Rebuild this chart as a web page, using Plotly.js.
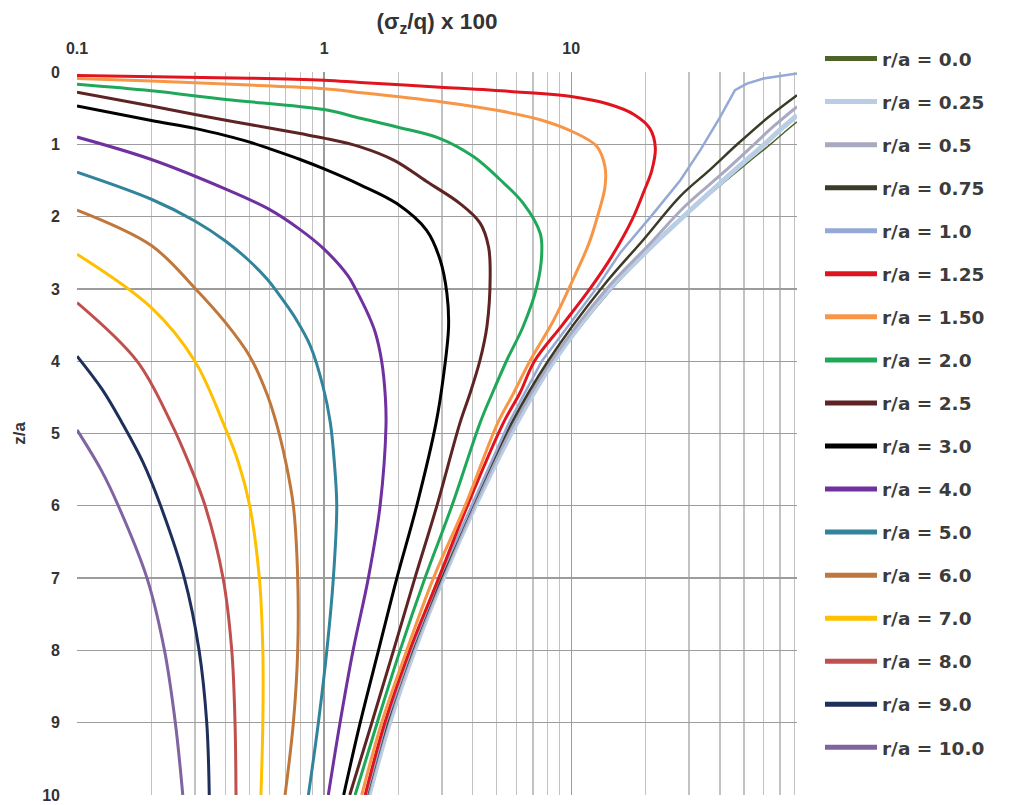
<!DOCTYPE html>
<html><head><meta charset="utf-8">
<script src="https://cdn.plot.ly/plotly-3.0.1.min.js"></script>
<style>
html,body{margin:0;padding:0;background:#fff}
#chart{width:1013px;height:805px}
</style>
</head><body><div id="chart"></div>
<script>
// Legend labels
const labels = ["r/a = 0.0","r/a = 0.25","r/a = 0.5","r/a = 0.75","r/a = 1.0","r/a = 1.25","r/a = 1.50","r/a = 2.0","r/a = 2.5","r/a = 3.0","r/a = 4.0","r/a = 5.0","r/a = 6.0","r/a = 7.0","r/a = 8.0","r/a = 9.0","r/a = 10.0"];

// depth z/a and stress (sigma_z/q)*100 for each r/a
const z_000 = [0.69, 0.85, 1.0, 1.25, 1.5, 2.05, 2.5, 3.0, 4.0, 4.85, 6, 7, 8, 9, 10];
const s_000 = [82, 72, 64, 52, 42.4, 27.6, 20.2, 14.6, 8.6, 6.1, 4.12, 3.05, 2.33, 1.85, 1.53];
const z_025 = [0.6, 0.8, 1.0, 1.4, 1.95, 2.5, 3.0, 4.0, 4.85, 6, 7, 8, 9, 10];
const s_025 = [82, 70, 60.5, 44.5, 29.5, 19.9, 14.3, 8.5, 6.03, 4.09, 3.03, 2.32, 1.84, 1.52];
const z_050 = [0.48, 0.75, 1.0, 1.4, 1.85, 2.4, 3.0, 4.0, 4.85, 6, 7, 8, 9, 10];
const s_050 = [82, 66, 55, 41, 29, 20.5, 13.9, 8.3, 5.9, 4.04, 3.0, 2.29, 1.81, 1.50];
const z_075 = [0.32, 0.64, 1.0, 1.35, 1.72, 2.32, 2.97, 4.0, 4.85, 6, 7, 8, 9, 10];
const s_075 = [82, 62, 47, 36.5, 27.6, 19.6, 13.4, 8.05, 5.75, 3.98, 2.97, 2.27, 1.80, 1.49];
const z_100 = [0.02, 0.09, 0.16, 0.25, 0.62, 1.08, 1.5, 2.0, 2.5, 3.0, 4.0, 4.85, 6, 7, 8, 9, 10];
const s_100 = [82, 60, 51.4, 46, 40.1, 33.3, 27.6, 21.0, 15.8, 12.6, 7.6, 5.6, 3.95, 2.93, 2.25, 1.78, 1.48];
const z_125 = [0.05, 0.085, 0.115, 0.145, 0.21, 0.27, 0.34, 0.44, 0.59, 0.78, 1.05, 1.36, 1.65, 2.05, 2.55, 3.0, 3.5, 4.0, 4.44, 4.85, 6, 7, 8, 9, 10];
const s_125 = [0.1, 0.5, 1.0, 1.4, 2.95, 5.66, 10, 14.0, 18.0, 20.8, 21.9, 21.2, 19.7, 17.6, 14.6, 11.9, 9.2, 7.1, 6.2, 5.32, 3.8, 2.91, 2.22, 1.76, 1.466];
const z_150 = [0.09, 0.125, 0.18, 0.23, 0.29, 0.41, 0.53, 0.66, 0.83, 1.03, 1.31, 1.59, 1.95, 2.37, 2.83, 3.43, 4.0, 4.44, 4.85, 6, 7, 8, 9, 10];
const s_150 = [0.1, 0.2, 0.5, 1.0, 1.45, 2.95, 5.0, 7.49, 10.2, 12.7, 13.7, 13.7, 12.9, 11.8, 10.3, 8.5, 6.8, 5.85, 5.05, 3.72, 2.77, 2.16, 1.71, 1.42];
const z_200 = [0.17, 0.26, 0.38, 0.52, 0.64, 0.76, 0.92, 1.17, 1.49, 1.82, 2.23, 2.51, 2.97, 3.52, 3.98, 4.44, 4.85, 6, 7, 8, 9, 10];
const s_200 = [0.1, 0.2, 0.4, 1.0, 1.40, 1.97, 2.95, 4.02, 5.16, 6.41, 7.49, 7.6, 7.26, 6.39, 5.5, 4.8, 4.28, 3.29, 2.56, 2.03, 1.64, 1.335];
const z_250 = [0.28, 0.47, 0.589, 0.667, 0.726, 0.852, 0.915, 1.035, 1.225, 1.515, 1.82, 2.09, 2.42, 2.83, 3.52, 3.98, 4.44, 4.85, 6, 7, 8, 9, 10];
const s_250 = [0.1, 0.2, 0.3, 0.4, 0.5, 0.8, 1.0, 1.40, 1.93, 2.60, 3.55, 4.28, 4.63, 4.70, 4.56, 4.28, 3.90, 3.55, 2.86, 2.33, 1.91, 1.56, 1.27];
const z_300 = [0.47, 0.67, 0.78, 0.88, 0.97, 1.06, 1.21, 1.34, 1.56, 1.82, 2.19, 2.6, 3.06, 3.52, 4.21, 4.85, 6, 7, 8, 9, 10];
const s_300 = [0.1, 0.2, 0.3, 0.4, 0.5, 0.6, 0.8, 1.0, 1.40, 1.97, 2.60, 2.95, 3.14, 3.19, 3.04, 2.84, 2.37, 1.97, 1.66, 1.40, 1.20];
const z_400 = [0.9, 1.21, 1.62, 1.9, 2.18, 2.45, 2.82, 3.0, 3.38, 3.6, 4.0, 4.5, 4.9, 6.0, 7.0, 8.0, 9.0, 10];
const s_400 = [0.1, 0.2, 0.4, 0.6, 0.8, 1.0, 1.25, 1.34, 1.52, 1.61, 1.71, 1.77, 1.78, 1.685, 1.51, 1.31, 1.16, 1.04];
const z_500 = [1.385, 1.76, 2.06, 2.34, 2.59, 2.87, 3.15, 3.42, 3.79, 4.35, 4.85, 5.4, 6.0, 7.0, 8.0, 9.0, 10];
const s_500 = [0.1, 0.2, 0.3, 0.4, 0.49, 0.59, 0.68, 0.77, 0.88, 0.99, 1.06, 1.1, 1.125, 1.09, 1.026, 0.948, 0.864];
const z_600 = [1.91, 2.4, 2.99, 3.47, 3.93, 4.44, 4.85, 5.4, 6.0, 7.0, 8.0, 9.0, 10];
const s_600 = [0.1, 0.2, 0.3, 0.4, 0.5, 0.585, 0.64, 0.7, 0.751, 0.782, 0.782, 0.751, 0.695];
const z_700 = [2.52, 3.26, 4.0, 4.85, 5.4, 6.0, 7.0, 8.0, 9.0, 10];
const s_700 = [0.1, 0.2, 0.3, 0.39, 0.45, 0.5, 0.547, 0.565, 0.565, 0.555];
const z_800 = [3.19, 4.0, 4.85, 5.4, 6.0, 7.0, 8.0, 9.0, 10];
const s_800 = [0.1, 0.175, 0.24, 0.283, 0.33, 0.39, 0.423, 0.436, 0.44];
const z_900 = [3.93, 4.4, 4.85, 5.4, 6.0, 7.0, 8.0, 9.0, 10];
const s_900 = [0.1, 0.127, 0.152, 0.185, 0.218, 0.272, 0.312, 0.335, 0.343];
const z_1000 = [4.95, 5.5, 6.0, 7.0, 8.0, 9.0, 10];
const s_1000 = [0.1, 0.125, 0.147, 0.192, 0.226, 0.25, 0.268];

// axis ticks
const xMajorTicks = [0.1, 1, 10];
const xMajorText = ["0.1", "1", "10"];
const xMinorTicks = [0.2,0.3,0.4,0.5,0.6,0.7,0.8,0.9,2,3,4,5,6,7,8,9,20,30,40,50,60,70,80];
const yTicks = [0,1,2,3,4,5,6,7,8,9,10];

const zs = [z_000,z_025,z_050,z_075,z_100,z_125,z_150,z_200,z_250,z_300,z_400,z_500,z_600,z_700,z_800,z_900,z_1000];
const ss = [s_000,s_025,s_050,s_075,s_100,s_125,s_150,s_200,s_250,s_300,s_400,s_500,s_600,s_700,s_800,s_900,s_1000];
const colors = ["#4F6228","#B9CDE5","#A9A9C2","#3B3B28","#95A9D6","#E0141E","#F79646","#1FA85A","#5E2424","#000000","#7030A0","#31849B","#C0773C","#FFC000","#C0504D","#1F2F5C","#8064A2"];
const widths = [1.5, 5, 3, 2.5, 2.5, 3, 3, 3, 3, 3, 3, 3, 3, 3, 3, 3, 3];

const FONT = "Liberation Sans, Arial, sans-serif";
const traces = labels.map((lab, i) => ({
  type: "scatter", mode: "lines",
  x: ss[i], y: zs[i],
  name: "<b>" + lab + "</b>",
  legendgroup: "g" + i,
  line: {color: colors[i], width: widths[i], shape: i === 4 ? "linear" : "spline", smoothing: 1},
  hoverinfo: "skip"
}));

const layout = {
  width: 1013, height: 805,
  margin: {l: 77, r: 216, t: 72, b: 10},
  paper_bgcolor: "#fff", plot_bgcolor: "#fff",
  font: {family: FONT, color: "#333"},
  showlegend: true,
  xaxis: {
    type: "log", side: "top", range: [-1, Math.log10(82)],
    tickmode: "array", tickvals: xMajorTicks, ticktext: xMajorText.map(t => "<b>" + t + "</b>"),
    tickfont: {size: 16, color: "#333"}, ticklabelstandoff: 14,
    showgrid: true, gridcolor: "#9c9c9c", gridwidth: 1.3,
    minor: {tickmode: "array", tickvals: xMinorTicks, showgrid: true, gridcolor: "#c2c2c2", gridwidth: 1.2},
    zeroline: false, showline: false, ticks: "",
    title: {text: "<b>(σ<sub>z</sub>/q) x 100</b>", font: {size: 22.5, color: "#333"}, standoff: 3},
    automargin: false
  },
  yaxis: {
    range: [10, 0], tickmode: "array", tickvals: yTicks, ticktext: yTicks.map(t => "<b>" + t + "</b>"),
    tickfont: {size: 16, color: "#333"},
    showgrid: true, gridcolor: "#9c9c9c", gridwidth: 1.3,
    zeroline: false, showline: false, ticks: "", ticklabelstandoff: 16,
    title: {text: "<b>z/a</b>", font: {size: 17, color: "#333"}, standoff: 12},
    automargin: false
  },
  legend: {
    x: 1.0 + (842 - 797) / 720, xanchor: "left",
    y: 1 + (72 - 40) / 723, yanchor: "top",
    font: {family: "DejaVu Sans, sans-serif", size: 18.5, color: "#3c3c3c"},
    traceorder: "grouped", tracegroupgap: 16, maxheight: 790,
    bgcolor: "rgba(0,0,0,0)", borderwidth: 0
  }
};

// lengthen legend line samples to match the reference (~55 px)
function fixLegend() {
  const root = document.querySelector("#chart .legend");
  if (!root) return;
  root.querySelectorAll("[clip-path]").forEach(el => el.removeAttribute("clip-path"));
  root.querySelectorAll("path").forEach(p => {
    const d = (p.getAttribute("d") || "").replace(/\s/g, "");
    if (/^M5,0h/.test(d)) {
      p.setAttribute("d", "M-17,0h52");
      p.style.setProperty("stroke-width", "5px");
    }
  });
}
Plotly.newPlot("chart", traces, layout, {displayModeBar: false, staticPlot: true});
fixLegend();
Promise.resolve().then(fixLegend);
setTimeout(fixLegend, 30);
</script>
</body></html>
